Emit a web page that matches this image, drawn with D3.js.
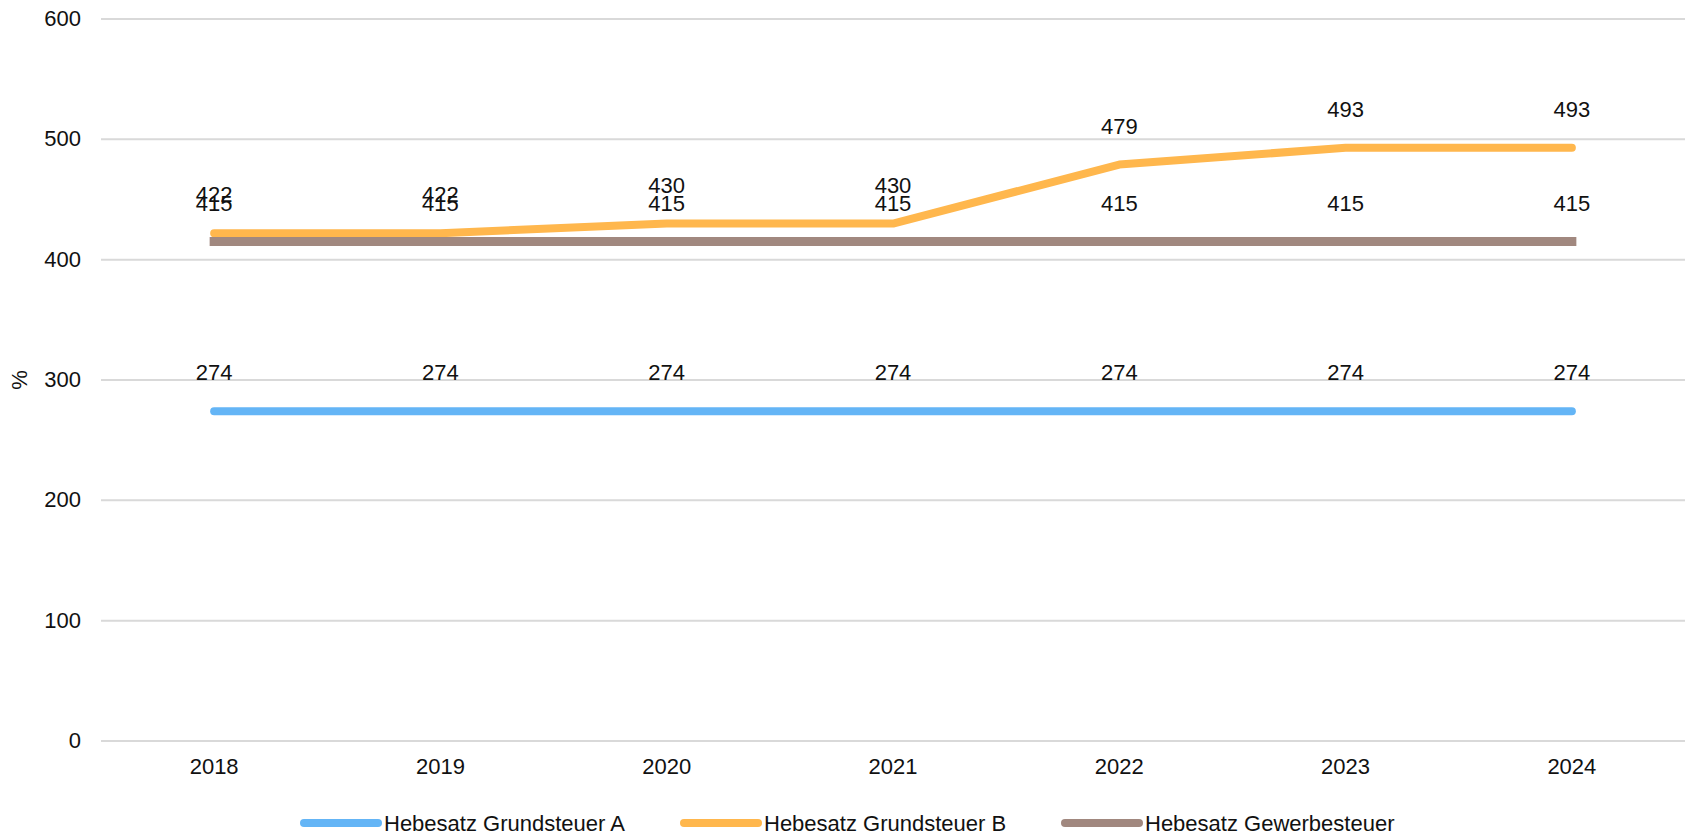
<!DOCTYPE html>
<html>
<head>
<meta charset="utf-8">
<script src="https://cdn.jsdelivr.net/npm/d3@7"></script>
<style>
  body { margin: 0; background: #fff; }
  svg text { font-family: "Liberation Sans", Arial, sans-serif; fill: #111; }
</style>
</head>
<body>
<svg id="chart" width="1687" height="836"></svg>
<script>
const years = ["2018", "2019", "2020", "2021", "2022", "2023", "2024"];
const grundsteuerA = [274, 274, 274, 274, 274, 274, 274];
const grundsteuerB = [422, 422, 430, 430, 479, 493, 493];
const gewerbesteuer = [415, 415, 415, 415, 415, 415, 415];
const yTicks = [0, 100, 200, 300, 400, 500, 600];

const series = [
  { name: "Hebesatz Grundsteuer A", values: grundsteuerA, color: "#64b5f6", cap: "round", width: 8 },
  { name: "Hebesatz Grundsteuer B", values: grundsteuerB, color: "#ffb74d", cap: "round", width: 8 },
  { name: "Hebesatz Gewerbesteuer", values: gewerbesteuer, color: "#a1887f", cap: "square", width: 9 }
];

const plotLeft = 101, plotRight = 1685, plotTop = 19, plotBottom = 741;
const svg = d3.select("#chart");

const x = d3.scalePoint().domain(years).range([plotLeft, plotRight]).padding(0.5);
const y = d3.scaleLinear().domain([0, 600]).range([plotBottom, plotTop]);

// grid lines
svg.append("g")
  .selectAll("line")
  .data(yTicks)
  .enter()
  .append("line")
  .attr("x1", plotLeft)
  .attr("x2", plotRight)
  .attr("y1", (d) => y(d))
  .attr("y2", (d) => y(d))
  .attr("stroke", "#d9d9d9")
  .attr("stroke-width", 2);

// y tick labels
svg.append("g")
  .selectAll("text")
  .data(yTicks)
  .enter()
  .append("text")
  .attr("x", 81)
  .attr("y", (d) => y(d) + 7)
  .attr("text-anchor", "end")
  .style("font-size", "22px")
  .text((d) => d);

// x labels
svg.append("g")
  .selectAll("text")
  .data(years)
  .enter()
  .append("text")
  .attr("x", (d) => x(d))
  .attr("y", 774)
  .attr("text-anchor", "middle")
  .style("font-size", "22px")
  .text((d) => d);

// y axis title
svg.append("text")
  .attr("transform", `translate(27, ${(plotTop + plotBottom) / 2}) rotate(-90)`)
  .attr("text-anchor", "middle")
  .style("font-size", "22px")
  .text("%");

const line = d3.line()
  .x((d, i) => x(years[i]))
  .y((d) => y(d));

// lines
series.forEach((s) => {
  svg.append("path")
    .datum(s.values)
    .attr("d", line)
    .attr("fill", "none")
    .attr("stroke", s.color)
    .attr("stroke-width", s.width)
    .attr("stroke-linecap", s.cap)
    .attr("stroke-linejoin", "round");
});

// value labels
series.forEach((s) => {
  svg.append("g")
    .selectAll("text")
    .data(s.values)
    .enter()
    .append("text")
    .attr("x", (d, i) => x(years[i]))
    .attr("y", (d) => y(d) - 31)
    .attr("text-anchor", "middle")
    .style("font-size", "22px")
    .text((d) => d);
});

// legend
const legendX = [304, 684, 1065];
const legend = svg.append("g")
  .selectAll("g")
  .data(series)
  .enter()
  .append("g")
  .attr("transform", (d, i) => `translate(${legendX[i]}, 823)`);

legend.append("line")
  .attr("x1", 0)
  .attr("x2", 74)
  .attr("stroke", (d) => d.color)
  .attr("stroke-width", 8)
  .attr("stroke-linecap", "round");

legend.append("text")
  .attr("x", 80)
  .attr("y", 8)
  .style("font-size", "22px")
  .text((d) => d.name);
</script>
</body>
</html>
